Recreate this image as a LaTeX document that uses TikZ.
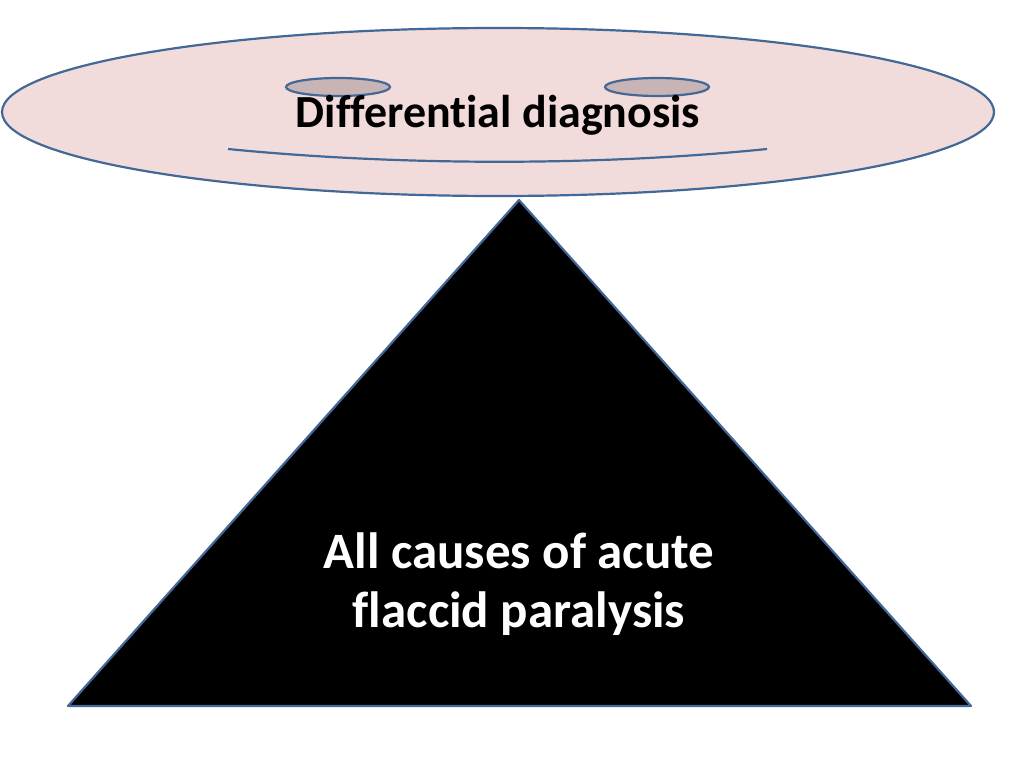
\documentclass[tikz,border=0pt]{standalone}
\usepackage{fontspec}
\setmainfont{Carlito}[Ligatures=NoCommon]
\usepackage{xcolor}
\usetikzlibrary{calc}

\definecolor{rim}{RGB}{65,104,150}
\definecolor{disc}{RGB}{242,220,219}
\definecolor{cup}{RGB}{200,180,180}

\begin{document}
\begin{tikzpicture}[x=1pt,y=-1pt,line width=2.2pt]
  % frame
  \useasboundingbox (0,0) rectangle (1024,768);
  \fill[white] (0,0) rectangle (1024,768);

  % Big disc on top
  \draw[rim,fill=disc] (498,112) ellipse (496 and 84);
  \draw[rim,fill=cup] (338,87) ellipse (52 and 9);
  \draw[rim,fill=cup] (657,87) ellipse (52 and 9);
  \draw[rim] (228,149) .. controls (400,166) and (600,166) .. (767,149);
  \node[font=\fontsize{46}{55}\selectfont\bfseries] (title) at (498,115) {Differential diagnosis};

  % Triangle below
  \coordinate (apex) at (519,200);
  \coordinate (left) at (68,706);
  \coordinate (right) at (971,706);
  \draw[rim,fill=black,line join=round] (apex) -- (left) -- (right) -- cycle;
  \node[white,align=center,font=\fontsize{51}{59}\selectfont\bfseries] (causes) at (519,584) {All causes of acute\\flaccid paralysis};
\end{tikzpicture}
\end{document}
